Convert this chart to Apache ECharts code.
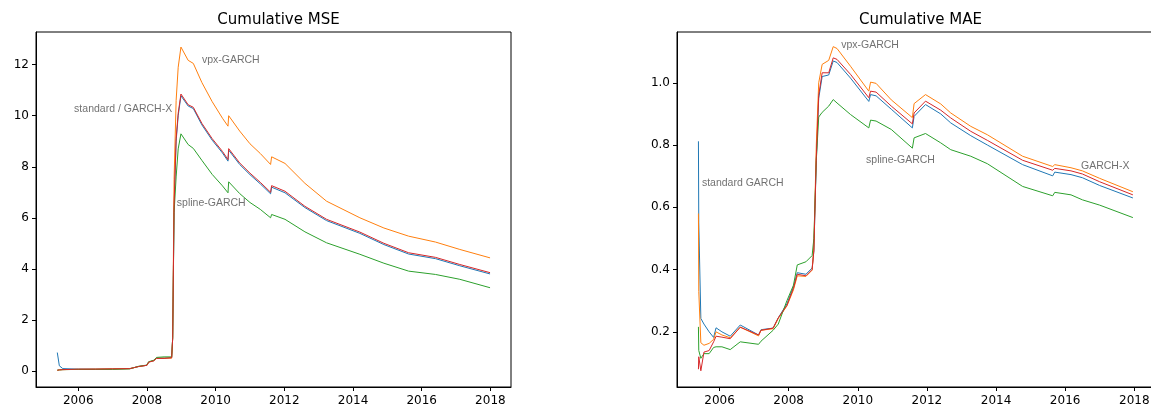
<!DOCTYPE html>
<html>
<head>
<meta charset="utf-8">
<script src="https://cdn.jsdelivr.net/npm/echarts@6/dist/echarts.min.js"></script>
<style>
  html, body { margin: 0; padding: 0; background: #fff; }
  #chart { width: 1151px; height: 410px; }
</style>
</head>
<body>
<div id="chart"></div>
<script>
// 时间轴（年份小数）
const mseYears = [2005.39, 2005.45, 2005.55, 2006.0, 2006.5, 2007.0, 2007.5, 2007.6, 2007.75, 2008.0, 2008.05, 2008.2, 2008.28, 2008.5,
  2008.72, 2008.75, 2008.79, 2008.85, 2008.91, 2008.99, 2009.2, 2009.35, 2009.6, 2009.9, 2010.2, 2010.36, 2010.38,
  2010.7, 2011.0, 2011.3, 2011.6, 2011.63, 2012.02, 2012.6, 2013.23, 2014.2, 2014.9, 2015.62, 2015.66, 2016.4, 2017.11, 2017.99]

const mseStandard = [0.72, 0.2, 0.09, 0.07, 0.07, 0.08, 0.09, 0.12, 0.17, 0.22, 0.35, 0.4, 0.5, 0.5,
  0.52, 1.3, 6.4, 9.0, 10.0, 10.78, 10.38, 10.28, 9.64, 9.04, 8.54, 8.22, 8.65,
  8.09, 7.69, 7.33, 6.94, 7.2, 6.98, 6.4, 5.89, 5.39, 4.95, 4.58, 4.65, 4.4, 4.12, 3.8]
const mseVpx = [0.02, 0.04, 0.05, 0.06, 0.07, 0.08, 0.09, 0.12, 0.17, 0.22, 0.35, 0.4, 0.5, 0.5,
  0.5, 1.3, 7.5, 10.6, 11.9, 12.69, 12.17, 12.05, 11.3, 10.55, 9.9, 9.59, 10.0,
  9.4, 8.9, 8.52, 8.09, 8.39, 8.13, 7.35, 6.65, 6.0, 5.6, 5.28, 5.35, 5.05, 4.76, 4.43]
const mseSpline = [0.03, 0.04, 0.05, 0.06, 0.06, 0.06, 0.08, 0.12, 0.18, 0.23, 0.36, 0.42, 0.53, 0.55,
  0.55, 1.3, 6.2, 7.6, 8.7, 9.29, 8.87, 8.72, 8.25, 7.7, 7.25, 6.98, 7.41,
  6.95, 6.6, 6.33, 6.0, 6.13, 5.94, 5.45, 5.02, 4.57, 4.22, 3.91, 3.98, 3.78, 3.59, 3.26]
const mseGarchX = [0.03, 0.04, 0.05, 0.07, 0.07, 0.08, 0.09, 0.12, 0.17, 0.22, 0.34, 0.4, 0.49, 0.49,
  0.52, 1.3, 6.5, 9.1, 10.1, 10.85, 10.43, 10.33, 9.7, 9.1, 8.6, 8.28, 8.71,
  8.15, 7.75, 7.39, 7.0, 7.26, 7.04, 6.45, 5.94, 5.44, 5.0, 4.63, 4.70, 4.45, 4.17, 3.85]

const maeYears = [2005.39, 2005.40, 2005.46, 2005.55, 2005.7, 2005.83, 2005.9, 2006.07, 2006.31, 2006.6, 2007.13, 2007.2,
  2007.55, 2007.7, 2007.95, 2008.14, 2008.25, 2008.5, 2008.68, 2008.73, 2008.8, 2008.87, 2008.97, 2009.16,
  2009.29, 2009.4, 2009.79, 2010.32, 2010.37, 2010.53, 2010.97, 2011.58, 2011.63, 2011.96, 2012.4, 2012.69,
  2013.27, 2013.75, 2014.77, 2015.64, 2015.7, 2016.17, 2016.5, 2017.0, 2017.96]

const maeStandard = [0.812, 0.55, 0.243, 0.225, 0.2, 0.182, 0.213, 0.2, 0.186, 0.222, 0.19, 0.207,
  0.212, 0.245, 0.29, 0.345, 0.39, 0.385, 0.405, 0.46, 0.75, 0.95, 1.02, 1.025,
  1.07, 1.065, 1.015, 0.94, 0.962, 0.958, 0.915, 0.855, 0.892, 0.93, 0.9, 0.871,
  0.83, 0.8, 0.737, 0.701, 0.713, 0.705, 0.695, 0.67, 0.63]
const maeVpx = [0.58, 0.33, 0.165, 0.157, 0.163, 0.176, 0.2, 0.19, 0.181, 0.215, 0.187, 0.205,
  0.21, 0.243, 0.283, 0.335, 0.38, 0.378, 0.398, 0.47, 0.8, 1.0, 1.059, 1.072,
  1.116, 1.11, 1.053, 0.973, 1.002, 0.998, 0.945, 0.888, 0.933, 0.962, 0.932, 0.903,
  0.86, 0.833, 0.764, 0.731, 0.737, 0.727, 0.717, 0.693, 0.65]
const maeSpline = [0.216, 0.14, 0.115, 0.13, 0.13, 0.15, 0.152, 0.152, 0.143, 0.168, 0.16, 0.17,
  0.205, 0.225, 0.3, 0.35, 0.415, 0.425, 0.445, 0.5, 0.75, 0.89, 0.905, 0.925,
  0.946, 0.935, 0.898, 0.855, 0.88, 0.877, 0.85, 0.79, 0.823, 0.837, 0.807, 0.785,
  0.764, 0.74, 0.667, 0.637, 0.648, 0.64, 0.624, 0.607, 0.567]
const maeGarchX = [0.08, 0.12, 0.075, 0.135, 0.14, 0.168, 0.186, 0.183, 0.178, 0.215, 0.19, 0.205,
  0.212, 0.245, 0.285, 0.34, 0.385, 0.38, 0.4, 0.46, 0.76, 0.96, 1.032, 1.032,
  1.08, 1.075, 1.027, 0.952, 0.973, 0.97, 0.925, 0.868, 0.903, 0.941, 0.912, 0.887,
  0.844, 0.815, 0.751, 0.719, 0.725, 0.717, 0.707, 0.682, 0.64]

// 刻度
const yearTicks = [2006, 2008, 2010, 2012, 2014, 2016, 2018]
const mseTicks = [0, 2, 4, 6, 8, 10, 12]
const maeTicks = [0.2, 0.4, 0.6, 0.8, 1.0]

// 标注 [年份, 数值, 文字]
const mseNotes = [[2009.6, 12.18, 'vpx-GARCH'], [2005.88, 10.24, 'standard / GARCH-X'], [2008.87, 6.59, 'spline-GARCH']]
const maeNotes = [[2009.52, 1.122, 'vpx-GARCH'], [2005.49, 0.679, 'standard GARCH'], [2010.24, 0.752, 'spline-GARCH'], [2016.46, 0.733, 'GARCH-X']]

const colors = ['#1f77b4', '#ff7f0e', '#2ca02c', '#d62728']
const tickFont = { color: '#000', fontSize: 12, fontFamily: 'DejaVu Sans' }

function line(xs, ys, color, idx) {
  return {
    type: 'line',
    xAxisIndex: idx,
    yAxisIndex: idx,
    showSymbol: false,
    symbol: 'none',
    silent: true,
    lineStyle: { color: color, width: 1 },
    data: xs.map((x, i) => [x, ys[i]])
  }
}

function notes(list, idx) {
  return {
    type: 'scatter',
    xAxisIndex: idx,
    yAxisIndex: idx,
    symbolSize: 0,
    silent: true,
    label: {
      show: true,
      position: 'right',
      distance: 0,
      formatter: p => p.data[2],
      color: '#4d4d4d',
      fontSize: 10.5,
      fontFamily: 'Liberation Sans'
    },
    data: list
  }
}

function xAxis(idx) {
  return {
    type: 'value',
    gridIndex: idx,
    min: 2004.77,
    max: 2018.6,
    splitLine: { show: false },
    axisLine: { show: true, onZero: false, lineStyle: { color: '#000', width: 1 } },
    axisTick: { show: true, length: 4, customValues: yearTicks, lineStyle: { color: '#000' } },
    axisLabel: Object.assign({ customValues: yearTicks, margin: 8, formatter: v => String(v) }, tickFont)
  }
}

function yAxis(idx, min, max, ticks, fmt) {
  return {
    type: 'value',
    gridIndex: idx,
    min: min,
    max: max,
    splitLine: { show: false },
    axisLine: { show: true, onZero: false, lineStyle: { color: '#000', width: 1 } },
    axisTick: { show: true, length: 4, customValues: ticks, lineStyle: { color: '#000' } },
    axisLabel: Object.assign({ customValues: ticks, margin: 7, formatter: fmt }, tickFont)
  }
}

const myChart = echarts.init(document.getElementById('chart'))
myChart.setOption({
  animation: false,
  title: [
    { text: 'Cumulative MSE', left: 273.5, top: 8, textAlign: 'center',
      textStyle: { fontSize: 15, fontWeight: 'normal', color: '#000', fontFamily: 'DejaVu Sans' } },
    { text: 'Cumulative MAE', left: 915.5, top: 8, textAlign: 'center',
      textStyle: { fontSize: 15, fontWeight: 'normal', color: '#000', fontFamily: 'DejaVu Sans' } }
  ],
  grid: [
    { left: 36, right: 640, top: 32, bottom: 23, show: true, borderColor: '#000', borderWidth: 1,
      containLabel: false, outerBoundsMode: 'none' },
    // 右图在原图中被裁掉了右边框
    { left: 677, right: -4, top: 32, bottom: 23, show: true, borderColor: '#000', borderWidth: 1,
      containLabel: false, outerBoundsMode: 'none' }
  ],
  xAxis: [xAxis(0), xAxis(1)],
  yAxis: [
    yAxis(0, -0.63, 13.28, mseTicks, v => String(v)),
    yAxis(1, 0.0229, 1.163, maeTicks, v => v.toFixed(1))
  ],
  series: [
    line(mseYears, mseStandard, colors[0], 0),
    line(mseYears, mseVpx, colors[1], 0),
    line(mseYears, mseSpline, colors[2], 0),
    line(mseYears, mseGarchX, colors[3], 0),
    line(maeYears, maeStandard, colors[0], 1),
    line(maeYears, maeVpx, colors[1], 1),
    line(maeYears, maeSpline, colors[2], 1),
    line(maeYears, maeGarchX, colors[3], 1),
    notes(mseNotes, 0),
    notes(maeNotes, 1)
  ]
})
</script>
</body>
</html>
